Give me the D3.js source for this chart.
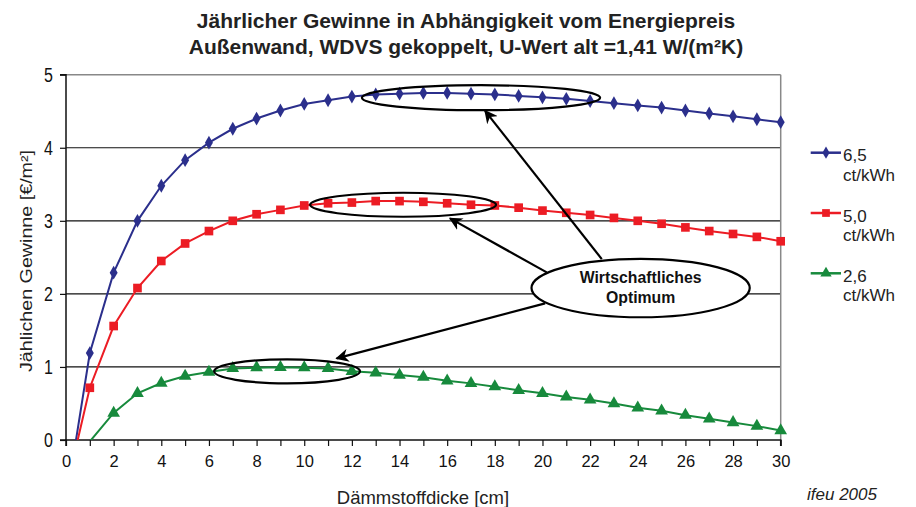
<!DOCTYPE html>
<html><head><meta charset="utf-8">
<script src="https://cdn.jsdelivr.net/npm/d3@7"></script>
<style>body{margin:0;background:#fff}svg{display:block}text{font-family:"Liberation Sans",Arial,sans-serif}</style>
</head><body>
<script>
const thickness = [0,1,2,3,4,5,6,7,8,9,10,11,12,13,14,15,16,17,18,19,20,21,22,23,24,25,26,27,28,29,30];
const price65 = [-0.86,1.19,2.29,3.00,3.48,3.83,4.07,4.26,4.40,4.51,4.60,4.65,4.70,4.73,4.74,4.75,4.75,4.74,4.73,4.71,4.69,4.67,4.64,4.61,4.58,4.55,4.51,4.47,4.43,4.39,4.35];
const price50 = [-0.69,0.715,1.56,2.08,2.45,2.69,2.86,3.00,3.09,3.15,3.21,3.24,3.25,3.27,3.27,3.26,3.24,3.22,3.21,3.18,3.14,3.11,3.08,3.04,3.00,2.96,2.91,2.86,2.82,2.78,2.72];
const price26 = [null,-0.02,0.37,0.64,0.78,0.875,0.93,0.98,0.99,0.995,0.99,0.98,0.94,0.92,0.89,0.86,0.81,0.775,0.73,0.68,0.64,0.59,0.55,0.50,0.44,0.40,0.34,0.29,0.24,0.19,0.13];
const seriesNames = [["6,5","ct/kWh"],["5,0","ct/kWh"],["2,6","ct/kWh"]];
const xTicks = [0,2,4,6,8,10,12,14,16,18,20,22,24,26,28,30];
const yTicks = [0,1,2,3,4,5];
const titleLines = ["Jährlicher Gewinne in Abhängigkeit vom Energiepreis","Außenwand, WDVS gekoppelt, U-Wert alt =1,41 W/(m²K)"];
// annotation ellipses in data units: [cx, cy, rx, ry]
const optimumEllipses = [[17.42,4.685,5.0,0.171],[14.15,3.22,3.9,0.164],[9.28,0.94,3.06,0.164]];
const labelEllipse = [24.12,2.08,4.58,0.40];
const arrows = [[22.49,2.476,17.59,4.505],[20.18,2.294,16.12,3.033],[20.11,1.87,11.36,1.118]];

const W=916,H=507;
const svg=d3.select("body").append("svg").attr("width",W).attr("height",H);
const x=d3.scaleLinear().domain([0,30]).range([66,780.7]);
const y=d3.scaleLinear().domain([0,5]).range([440,74.7]);

const defs=svg.append("defs");
defs.append("clipPath").attr("id","clip").append("rect")
 .attr("x",x(0)).attr("y",0).attr("width",W-x(0)).attr("height",y(0));
defs.append("marker").attr("id","arr").attr("viewBox","0 0 10 10").attr("refX",9).attr("refY",5)
 .attr("markerWidth",6).attr("markerHeight",6).attr("orient","auto")
 .append("path").attr("d","M0,0L10,5L0,10L3,5Z").attr("fill","#000");

// title
svg.selectAll("text.title").data(titleLines).join("text").attr("class","title")
 .attr("x",466).attr("y",(d,i)=>27.5+i*26).attr("text-anchor","middle")
 .attr("font-size",21).attr("font-weight","bold").attr("fill","#222").text(d=>d);

// grid
svg.append("g").selectAll("line").data([1,2,3,4]).join("line")
 .attr("x1",x(0)).attr("x2",x(30)).attr("y1",d=>y(d)).attr("y2",d=>y(d))
 .attr("stroke","#111").attr("stroke-width",1.2);
svg.append("line").attr("x1",x(0)).attr("x2",x(30)).attr("y1",y(5)).attr("y2",y(5)).attr("stroke","#888").attr("stroke-width",1.5);
svg.append("line").attr("x1",x(30)).attr("x2",x(30)).attr("y1",y(5)).attr("y2",y(0)).attr("stroke","#888").attr("stroke-width",1.5);

// axes
const xAxis=svg.append("g").attr("transform",`translate(0,${y(0)})`)
 .call(d3.axisBottom(x).tickValues(thickness).tickSize(6).tickFormat(d=>xTicks.includes(d)?d:""));
xAxis.selectAll("text").attr("font-size",16.5).attr("dy","1.1em").attr("fill","#111");
const yAxis=svg.append("g").attr("transform",`translate(${x(0)},0)`)
 .call(d3.axisLeft(y).tickValues(yTicks).tickSize(6).tickFormat(d=>d));
yAxis.selectAll("text").attr("font-size",16).attr("dx","-0.25em").attr("transform","scale(1,1.25)").attr("fill","#111");
[xAxis,yAxis].forEach(a=>{a.select(".domain").attr("stroke","#111").attr("stroke-width",1.5);a.selectAll("line").attr("stroke","#111").attr("stroke-width",1.2);a.selectAll("text").style("font-family",'"Liberation Sans",Arial,sans-serif');});
xAxis.select(".domain").attr("d",`M${x(0)},6V0H${x(30)}V6`);
yAxis.select(".domain").attr("d",`M-6,${y(5)}H0V${y(0)}H-6`);

svg.append("text").attr("transform",`translate(32,261) rotate(-90)`).attr("text-anchor","middle")
 .attr("font-size",16).attr("textLength",222).attr("lengthAdjust","spacingAndGlyphs")
 .attr("fill","#222").text("Jählichen Gewinne [€/m²]");
svg.append("text").attr("x",423).attr("y",504).attr("text-anchor","middle").attr("font-size",18.5).attr("fill","#222").text("Dämmstoffdicke [cm]");
svg.append("text").attr("x",842).attr("y",500).attr("text-anchor","middle").attr("font-size",17).attr("font-style","italic").attr("fill","#222").text("ifeu 2005");

// series
const series=[
 {vals:price65,color:"#2b2f8c",shape:d3.symbolDiamond,size:55},
 {vals:price50,color:"#ec1c24",shape:d3.symbolSquare,size:75},
 {vals:price26,color:"#178a3c",shape:d3.symbolTriangle,size:70}];
const line=d3.line().defined(d=>d[1]!=null).x(d=>x(d[0])).y(d=>y(d[1]));
series.forEach(s=>{
 const pts=thickness.map((t,i)=>[t,s.vals[i]]);
 svg.append("path").attr("clip-path","url(#clip)").attr("d",line(pts))
  .attr("fill","none").attr("stroke",s.color).attr("stroke-width",2);
 svg.append("g").selectAll("path").data(pts.filter(p=>p[1]!=null&&p[1]>=0)).join("path")
  .attr("transform",p=>`translate(${x(p[0])},${y(p[1])})`)
  .attr("d",d3.symbol().type(s.shape).size(s.size)).attr("fill",s.color);
});

// legend
const lg=svg.append("g");
series.forEach((s,i)=>{
 const cy=152.7+i*60.3;
 lg.append("line").attr("x1",810.7).attr("x2",841).attr("y1",cy).attr("y2",cy).attr("stroke",s.color).attr("stroke-width",2.5);
 lg.append("path").attr("transform",`translate(826,${cy})`).attr("d",d3.symbol().type(s.shape).size(s.size*0.8)).attr("fill",s.color);
 lg.append("text").attr("x",843).attr("y",cy+8.5).attr("font-size",17).attr("fill","#222").text(seriesNames[i][0]);
 lg.append("text").attr("x",843).attr("y",cy+28).attr("font-size",17).attr("fill","#222").text(seriesNames[i][1]);
});

// annotations
const ky=y(0)-y(1), kx=x(1)-x(0);
svg.append("g").selectAll("ellipse").data(optimumEllipses).join("ellipse")
 .attr("cx",d=>x(d[0])).attr("cy",d=>y(d[1])).attr("rx",d=>d[2]*kx).attr("ry",d=>d[3]*ky)
 .attr("fill","none").attr("stroke","#000").attr("stroke-width",2.2);
svg.append("g").selectAll("line").data(arrows).join("line")
 .attr("x1",d=>x(d[0])).attr("y1",d=>y(d[1])).attr("x2",d=>x(d[2])).attr("y2",d=>y(d[3]))
 .attr("stroke","#000").attr("stroke-width",2.2).attr("marker-end","url(#arr)");
svg.append("ellipse").attr("cx",x(labelEllipse[0])).attr("cy",y(labelEllipse[1]))
 .attr("rx",labelEllipse[2]*kx).attr("ry",labelEllipse[3]*ky).attr("fill","#fff").attr("stroke","#000").attr("stroke-width",2.2);
svg.append("text").attr("x",x(labelEllipse[0])).attr("y",y(labelEllipse[1])-5.5).attr("text-anchor","middle")
 .attr("font-size",15.8).attr("font-weight","bold").attr("fill","#111").text("Wirtschaftliches");
svg.append("text").attr("x",x(labelEllipse[0])).attr("y",y(labelEllipse[1])+15).attr("text-anchor","middle")
 .attr("font-size",15.8).attr("font-weight","bold").attr("fill","#111").text("Optimum");
</script>
</body></html>
